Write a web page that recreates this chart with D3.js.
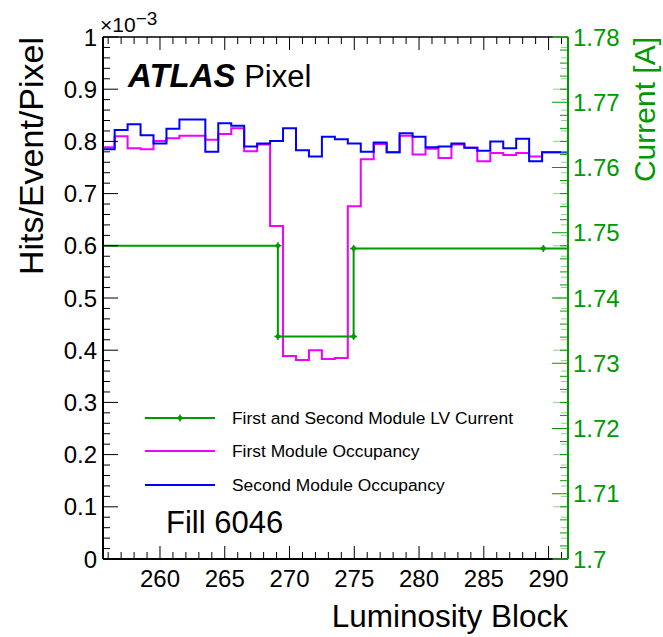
<!DOCTYPE html>
<html><head><meta charset="utf-8">
<script src="https://cdn.jsdelivr.net/npm/d3@7"></script>
<style>
body{margin:0;background:#fff;}
svg{display:block;font-family:"Liberation Sans",Arial,Helvetica,sans-serif;}
</style></head>
<body><svg id="c" width="663" height="637"></svg>
<script>
// ---- data ----
const lumiBlocks = d3.range(256, 292); // 256..291
const secondModule = [0.785,0.822,0.833,0.812,0.796,0.824,0.842,0.842,0.780,0.835,0.830,0.790,0.796,0.801,0.825,0.783,0.771,0.809,0.804,0.796,0.780,0.798,0.779,0.8155,0.809,0.789,0.790,0.796,0.788,0.782,0.800,0.787,0.805,0.762,0.779,0.779];
const firstModule  = [0.789,0.810,0.787,0.785,0.801,0.806,0.811,0.811,0.803,0.814,0.825,0.781,0.794,0.638,0.389,0.381,0.400,0.383,0.385,0.676,0.766,0.795,0.779,0.811,0.775,0.786,0.768,0.794,0.788,0.762,0.778,0.774,0.778,0.771,0.779,0.779];
const currentLB = [250.0, 269.1, 269.1, 274.95, 274.95, 289.6, 304.0];
const currentA  = [1.7480, 1.7480, 1.7341, 1.7341, 1.7476, 1.7476, 1.7476];
const xTicks = [260,265,270,275,280,285,290];
const yTicks = [0,0.1,0.2,0.3,0.4,0.5,0.6,0.7,0.8,0.9,1];
const y2Ticks = [1.70,1.71,1.72,1.73,1.74,1.75,1.76,1.77,1.78];
const legendLabels = ["First and Second Module LV Current","First Module Occupancy","Second Module Occupancy"];

// ---- layout ----
const L=103, R=568, T=37, B=559;
const GREEN="#009900", MAG="#f000ff", BLUE="#0000ff";
const svg = d3.select("#c");
const x = d3.scaleLinear().domain([255.6, 291.5]).range([L, R]);
const y = d3.scaleLinear().domain([0, 1]).range([B, T]);
const y2 = d3.scaleLinear().domain([1.70, 1.78]).range([B, T]);

svg.append("defs").append("clipPath").attr("id","plot")
  .append("rect").attr("x",L).attr("y",T).attr("width",R-L).attr("height",B-T);

function histPath(vals){
  const p = d3.path();
  vals.forEach((v,i)=>{
    const lb = lumiBlocks[i];
    const x0 = Math.max(x(lb-0.5), L), x1 = Math.min(x(lb+0.5), R);
    if(i===0) p.moveTo(x0, y(v)); else p.lineTo(x0, y(v));
    p.lineTo(x1, y(v));
  });
  return p.toString();
}
const g = svg.append("g").attr("clip-path","url(#plot)");
g.append("path").attr("d",histPath(firstModule)).attr("fill","none").attr("stroke",MAG).attr("stroke-width",2);
g.append("path").attr("d",histPath(secondModule)).attr("fill","none").attr("stroke",BLUE).attr("stroke-width",2);
const curPts = currentLB.map((lb,i)=>[x(lb), y2(currentA[i])]);
g.append("path").attr("d",d3.line()(curPts)).attr("fill","none").attr("stroke",GREEN).attr("stroke-width",2);
function marker(sel, cx, cy){
  sel.append("circle").attr("cx",cx).attr("cy",cy).attr("r",2.3).attr("fill",GREEN);
  sel.append("path").attr("d",`M${cx-3.5},${cy}H${cx+3.5}M${cx},${cy-3.5}V${cy+3.5}`).attr("stroke",GREEN).attr("stroke-width",1.5);
}
curPts.forEach(p=>{ if(p[0]>=L && p[0]<=R) marker(g,p[0],p[1]); });

// ---- frame & axes ----
const ax = svg.append("g").attr("stroke","#000").attr("stroke-width",1);
d3.range(256, 292).forEach(v=>{
  const major = v%5===0; const len = major?13:7; const xx = x(v);
  ax.append("line").attr("x1",xx).attr("x2",xx).attr("y1",B).attr("y2",B-len);
  ax.append("line").attr("x1",xx).attr("x2",xx).attr("y1",T).attr("y2",T+len);
});
d3.range(0, 51).forEach(k=>{
  const v = k/50; const major = k%5===0; const len = major?15:7; const yy = y(v);
  ax.append("line").attr("x1",L).attr("x2",L+len).attr("y1",yy).attr("y2",yy);
  svg.append("line").attr("x1",R).attr("x2",R-len).attr("y1",yy).attr("y2",yy).attr("stroke","#8fcf8f").attr("stroke-width",1);
});
d3.range(0, 41).forEach(k=>{
  const v = 1.70 + k*0.002; const major = k%5===0; const len = major?16:8; const yy = y2(v);
  svg.append("line").attr("x1",R).attr("x2",R-len).attr("y1",yy).attr("y2",yy).attr("stroke",GREEN).attr("stroke-width",1);
});
ax.append("line").attr("x1",L).attr("x2",R).attr("y1",T).attr("y2",T).attr("stroke-width",1.5);
ax.append("line").attr("x1",L).attr("x2",R).attr("y1",B).attr("y2",B).attr("stroke-width",2);
ax.append("line").attr("x1",L).attr("x2",L).attr("y1",T).attr("y2",B).attr("stroke-width",2);
svg.append("line").attr("x1",R).attr("x2",R).attr("y1",T).attr("y2",B).attr("stroke",GREEN).attr("stroke-width",2);

// tick labels
const fmtY = d3.format("~g");
svg.selectAll(".yl").data(yTicks).enter().append("text")
  .attr("x",97).attr("y",d=>y(d)).attr("dy","0.36em").attr("text-anchor","end")
  .attr("font-size",24).text(d=>fmtY(d));
svg.selectAll(".y2l").data(y2Ticks).enter().append("text")
  .attr("x",573).attr("y",d=>y2(d)).attr("dy","0.36em").attr("text-anchor","start")
  .attr("font-size",24).attr("fill",GREEN).text(d=>fmtY(+d.toFixed(2)));
svg.selectAll(".xl").data(xTicks).enter().append("text")
  .attr("x",d=>x(d)).attr("y",587).attr("text-anchor","middle")
  .attr("font-size",24).text(d=>d);

// exponent
const ex = svg.append("text").attr("x",100).attr("y",32).attr("font-size",21);
ex.append("tspan").text("\u00d710");
ex.append("tspan").attr("dy",-7).attr("font-size",19).text("\u22123");

// titles
svg.append("text").attr("x",R).attr("y",627).attr("text-anchor","end").attr("font-size",31.5).text("Luminosity Block");
svg.append("text").attr("transform",`translate(43,${T}) rotate(-90)`).attr("text-anchor","end").attr("font-size",34).text("Hits/Event/Pixel");
svg.append("text").attr("transform",`translate(655,${T}) rotate(-90)`).attr("text-anchor","end").attr("font-size",30).attr("fill",GREEN).text("Current [A]");

// ATLAS label
const at = svg.append("text").attr("x",128).attr("y",87).attr("font-size",31);
at.append("tspan").attr("font-weight","bold").attr("font-style","italic").attr("font-size",33).text("ATLAS");
at.append("tspan").text(" Pixel");
svg.append("text").attr("x",166).attr("y",533).attr("font-size",31).text("Fill 6046");

// legend
const legCols=[GREEN,MAG,BLUE], legY=[418,451,485];
legendLabels.forEach((lab,i)=>{
  svg.append("line").attr("x1",145).attr("x2",215).attr("y1",legY[i]).attr("y2",legY[i]).attr("stroke",legCols[i]).attr("stroke-width",2);
  if(i===0) marker(svg,180,legY[i]);
  svg.append("text").attr("x",232).attr("y",legY[i]).attr("dy","0.36em").attr("font-size",17.4).text(lab);
});
</script></body></html>
